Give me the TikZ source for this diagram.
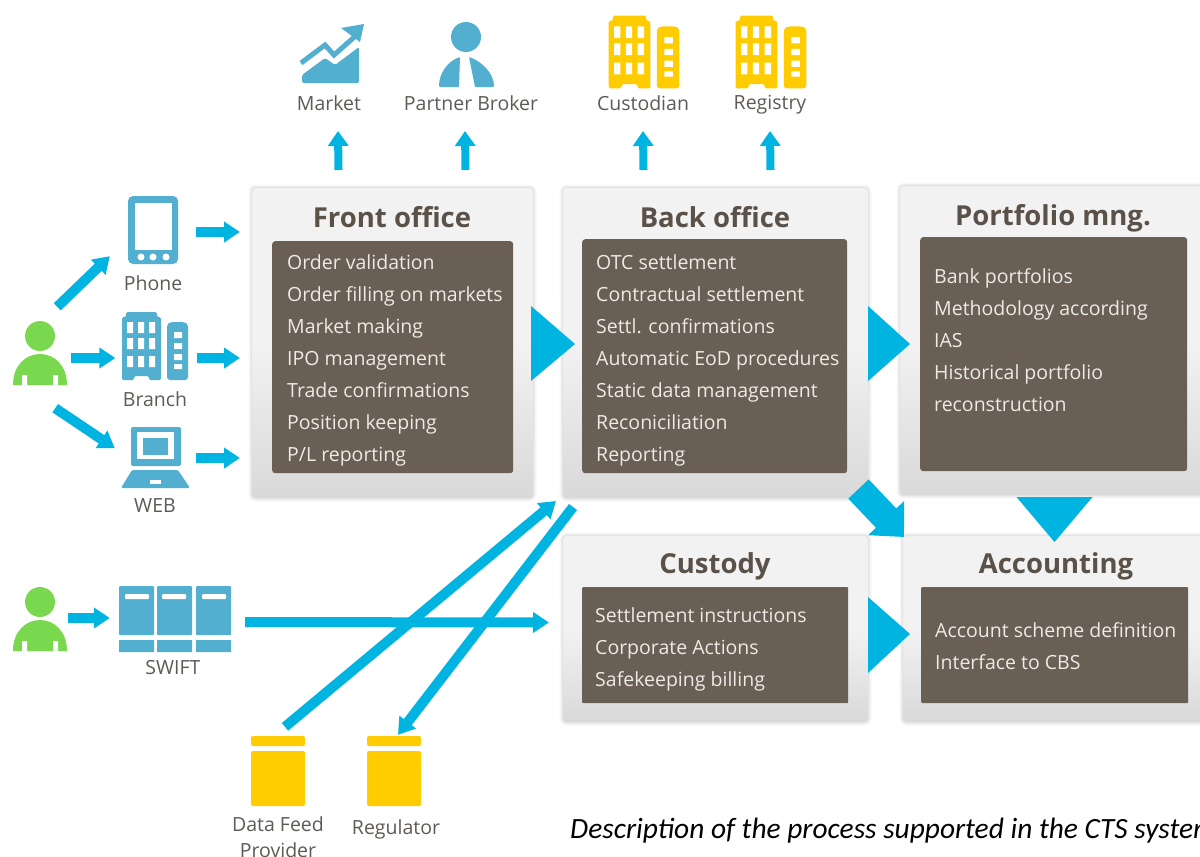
\documentclass[tikz,border=0pt]{standalone}
\usepackage{fontspec}
\setmainfont{Open Sans}
\newfontfamily\captionfont{Carlito}
\usetikzlibrary{arrows.meta}

\definecolor{flowblue}{HTML}{00B4E2}
\definecolor{iconblue}{HTML}{52AFD0}
\definecolor{icongreen}{HTML}{7AD84E}
\definecolor{iconyellow}{HTML}{FFCC00}
\definecolor{boxbrown}{HTML}{695F55}
\definecolor{titlegrey}{HTML}{5A5249}
\definecolor{labelgrey}{HTML}{5F5A55}
\definecolor{listwhite}{HTML}{EEEAE6}

\tikzset{
  panel/.style={anchor=north west, inner sep=0, rounded corners=4pt,
    preaction={draw=black!3, line width=6pt}, preaction={draw=black!7, line width=3pt},
    draw=black!11, line width=1pt,
    top color=black!5, bottom color=black!15, middle color=black!5},
  listbox/.style={anchor=north west, inner sep=0, fill=boxbrown, rounded corners=3pt},
  listtext/.style={anchor=west, inner sep=0, align=left, text=listwhite, font=\fontsize{19.5}{32}\selectfont},
  paneltitle/.style={inner sep=0, text=titlegrey, font=\fontsize{27.5}{30}\selectfont\bfseries},
  iconname/.style={inner sep=0, text=labelgrey, font=\fontsize{19.5}{26}\selectfont, align=center},
  iconbox/.style={inner sep=0},
  flowarrow/.style={draw=flowblue, line width=10pt, -{Triangle[width=20pt,length=16pt]}},
  flowup/.style={draw=flowblue, line width=8pt, -{Triangle[width=20pt,length=15pt]}},
  % icons, each one drawn round its own centre
  persicon/.pic={
    \fill[icongreen] (0,-24) circle (15);
    \fill[icongreen] (-27,25) .. controls (-27,5) and (-14,-6) .. (0,-6)
      .. controls (14,-6) and (27,5) .. (27,25) -- cycle;
    \fill[white] (-18,15) rectangle (-13,25) (13,15) rectangle (18,25);
  },
  buildicon/.pic={
    \fill[pic actions, rounded corners=1.5pt] (-33,34) -- (-33,-29) -- (-29,-29) -- (-29,-34) -- (2,-34)
      -- (2,-29) -- (6,-29) -- (6,34) -- (-6,34) -- (-6,30) -- (-21,30) -- (-21,34) -- cycle;
    \fill[pic actions, rounded corners=3pt] (12,34) -- (12,-22) -- (16,-24) -- (29,-24) -- (33,-22) -- (33,34) -- cycle;
    \fill[white] (-28,-24) rectangle (-22,-13) (-17,-24) rectangle (-11,-13) (-6,-24) rectangle (0,-13);
    \fill[white] (-28,-8) rectangle (-22,3) (-17,-8) rectangle (-11,3) (-6,-8) rectangle (0,3);
    \fill[white] (-28,10) rectangle (-22,21) (-17,10) rectangle (-11,21) (-6,10) rectangle (0,21);
    \fill[white] (19,-14) rectangle (27,-8) (19,-3) rectangle (27,3) (19,8) rectangle (27,14) (19,18) rectangle (27,23);
  },
  phoneicon/.pic={
    \fill[iconblue, rounded corners=5pt] (-25,-34) rectangle (25,34);
    \fill[white] (-18,-27) rectangle (19,20);
    \fill[white] (-12,27) circle (3.5) (0,27) circle (3.5) (13,27) circle (3.5);
  },
  lapicon/.pic={
    \fill[iconblue, rounded corners=2pt] (-24,-30) rectangle (26,9);
    \fill[white] (-18,-25) rectangle (19,2);
    \fill[iconblue] (-12,-19) rectangle (13,-2);
    \fill[iconblue, rounded corners=1.5pt] (-23,13) -- (23,13) -- (35,31) -- (-34,31) -- cycle;
    \fill[white] (-5,23) rectangle (6,27);
  },
  charticon/.pic={
    \fill[iconblue, rounded corners=1.5pt] (-28,28) -- (-28,20) -- (-5,3) -- (5,10) -- (29,-8) -- (29,28) -- cycle;
    \draw[iconblue, line width=5pt] (-29,8) -- (-5,-10) -- (4,0) -- (30,-23);
    \fill[iconblue] (11,-27) -- (34,-31) -- (30,-13) -- cycle;
  },
  brokicon/.pic={
    \fill[iconblue] (0,-18) circle (15);
    \fill[iconblue, rounded corners=1pt] (-6,2) .. controls (-18,6) and (-27,18) .. (-27,32) -- (-7,32) -- cycle;
    \fill[iconblue, rounded corners=1pt] (3,2) .. controls (15,6) and (28,18) .. (28,32) -- (9,32) -- cycle;
  },
  servicon/.pic={
    \fill[iconblue, rounded corners=1pt] (-56,-33) rectangle (-21,16) (-18,-33) rectangle (17,16) (21,-33) rectangle (56,16);
    \fill[iconblue] (-56,21) rectangle (-21,33) (-18,21) rectangle (17,33) (21,21) rectangle (56,33);
    \fill[white, rounded corners=1pt] (-50,-25) rectangle (-26,-20) (-13,-25) rectangle (11,-20) (27,-25) rectangle (51,-20);
  },
  canicon/.pic={
    \fill[iconyellow, rounded corners=2pt] (-27,-35) rectangle (27,-25);
    \fill[iconyellow, rounded corners=2pt] (-27,-20) rectangle (27,35);
  }
}

\begin{document}
\begin{tikzpicture}[x=1pt, y=-1pt]
    \useasboundingbox (0,0) rectangle (1200,857);
    \clip (0,0) rectangle (1200,857);
    \fill[white] (0,0) rectangle (1200,857);

    % panels
    \node[panel, minimum width=282, minimum height=311] (front) at (251,187) {};
    \node[panel, minimum width=306, minimum height=311] (back) at (562,187) {};
    \node[panel, minimum width=340, minimum height=310] (portfolio) at (899,185) {};
    \node[panel, minimum width=306, minimum height=187] (custody) at (562,535) {};
    \node[panel, minimum width=340, minimum height=187] (accounting) at (902,535) {};

    \node[paneltitle] (fronttitle) at (392,217) {Front office};
    \node[paneltitle] (backtitle) at (715,217) {Back office};
    \node[paneltitle] (portfoliotitle) at (1053,218) {Portfolio mng.};
    \node[paneltitle] (custodytitle) at (715,566) {Custody};
    \node[paneltitle] (accountingtitle) at (1056,566) {Accounting};

    \node[listbox, minimum width=241, minimum height=232] (frontlist) at (272,241) {};
    \node[listbox, minimum width=265, minimum height=234] (backlist) at (582,239) {};
    \node[listbox, minimum width=267, minimum height=234] (portfoliolist) at (920,237) {};
    \node[listbox, rounded corners=1pt, minimum width=266, minimum height=116] (custodylist) at (582,587) {};
    \node[listbox, rounded corners=1pt, minimum width=267, minimum height=116] (accountinglist) at (921,587) {};

    \node[listtext] (fronttext) at (287,360) {Order validation\\Order filling on markets\\Market making\\IPO management\\Trade confirmations\\Position keeping\\P/L reporting};
    \node[listtext] (backtext) at (596,360) {OTC settlement\\Contractual settlement\\Settl. confirmations\\Automatic EoD procedures\\Static data management\\Reconiciliation\\Reporting};
    \node[listtext] (portfoliotext) at (934,340) {Bank portfolios\\Methodology according\\IAS\\Historical portfolio\\reconstruction};
    \node[listtext] (custodytext) at (595,649) {Settlement instructions\\Corporate Actions\\Safekeeping billing};
    \node[listtext] (accountingtext) at (935,646) {Account scheme definition\\Interface to CBS};

    % icons
    \node[iconbox, minimum width=54, minimum height=64] (user) at (40,353) {};
    \node[iconbox, minimum width=54, minimum height=64] (trader) at (40,619) {};
    \node[iconbox, minimum width=50, minimum height=68] (phone) at (153,230) {};
    \node[iconbox, minimum width=67, minimum height=68] (branch) at (155,346) {};
    \node[iconbox, minimum width=69, minimum height=62] (web) at (155,457) {};
    \node[iconbox, minimum width=112, minimum height=66] (swift) at (175,619) {};
    \node[iconbox, minimum width=62, minimum height=62] (market) at (330,55) {};
    \node[iconbox, minimum width=55, minimum height=70] (broker) at (466,55) {};
    \node[iconbox, minimum width=72, minimum height=72] (custodian) at (644,52) {};
    \node[iconbox, minimum width=72, minimum height=72] (registry) at (771,52) {};
    \node[iconbox, minimum width=54, minimum height=70] (datafeed) at (278,771) {};
    \node[iconbox, minimum width=54, minimum height=70] (regulator) at (394,771) {};

    \pic at ([yshift=-7pt]user.center) {persicon};
    \pic at ([yshift=-7pt]trader.center) {persicon};
    \pic at (phone) {phoneicon};
    \pic[fill=iconblue] at (branch) {buildicon};
    \pic at (web) {lapicon};
    \pic at (swift) {servicon};
    \pic at (market) {charticon};
    \pic at (broker) {brokicon};
    \pic[fill=iconyellow, scale=1.07] at (custodian) {buildicon};
    \pic[fill=iconyellow, scale=1.07] at (registry) {buildicon};
    \pic at (datafeed) {canicon};
    \pic at (regulator) {canicon};

    \node[iconname] (phonename) at (153,283) {Phone};
    \node[iconname] (branchname) at (155,399) {Branch};
    \node[iconname] (webname) at (155,506) {WEB};
    \node[iconname] (swiftname) at (173,668) {SWIFT};
    \node[iconname] (marketname) at (329,103) {Market};
    \node[iconname] (brokername) at (471,103) {Partner Broker};
    \node[iconname] (custodianname) at (643,103) {Custodian};
    \node[iconname] (registryname) at (770,105) {Registry};
    \node[iconname] (datafeedname) at (278,837) {Data Feed\\Provider};
    \node[iconname] (regulatorname) at (396,829) {Regulator};

    % big arrows between panels
    \fill[flowblue] ([shift={(-3,-37)}]front.east) -- ([shift={(41,1)}]front.east) -- ([shift={(-3,38)}]front.east) -- cycle;
    \fill[flowblue] ([shift={(-1,-37)}]back.east) -- ([shift={(41,1)}]back.east) -- ([shift={(-1,38)}]back.east) -- cycle;
    \fill[flowblue] ([shift={(-1,-32)}]custody.east) -- ([shift={(41,5)}]custody.east) -- ([shift={(-1,44)}]custody.east) -- cycle;
    \fill[flowblue] ([shift={(-53,1)}]portfolio.south) -- ([shift={(23,1)}]portfolio.south) -- ([shift={(-15,46)}]portfolio.south) -- cycle;
    \draw[flowarrow, line width=28pt, -{Triangle[width=48pt,length=26pt]}] ([shift={(-10.5,-10)}]back.south east) -- ([shift={(2,2)}]accounting.north west);

    % arrows
    \draw[flowup] ([shift={(-54,-17)}]front.north) -- ([shift={(9,28)}]marketname.center);
    \draw[flowup] ([shift={(73,-17)}]front.north) -- ([shift={(-6,28)}]brokername.center);
    \draw[flowup] ([shift={(-72,-17)}]back.north) -- ([shift={(0,28)}]custodianname.center);
    \draw[flowup] ([shift={(55,-17)}]back.north) -- ([shift={(0,26)}]registryname.center);

    \draw[flowarrow] ([shift={(-10,-14)}]user.north east) -- ([shift={(-18,-8)}]phone.south west);
    \draw[flowarrow] ([shift={(4,5)}]user.east) -- ([shift={(-6,12)}]branch.west);
    \draw[flowarrow] ([shift={(-12,23)}]user.south east) -- ([shift={(-5.5,-40)}]web.south west);
    \draw[flowarrow] ([shift={(18,2)}]phone.east) -- ([shift={(-11,2)}]phone.east -| front.west);
    \draw[flowarrow] ([shift={(8,12)}]branch.east) -- ([shift={(-11,12)}]branch.east -| front.west);
    \draw[flowarrow] ([shift={(6,1)}]web.east) -- ([shift={(-11,1)}]web.east -| front.west);
    \draw[flowarrow] ([shift={(1,-1)}]trader.east) -- ([shift={(-9,-1)}]swift.west);
    \draw[flowarrow] ([shift={(14,3)}]swift.east) -- ([shift={(-13,-6.5)}]custody.west);
    \draw[flowarrow] ([shift={(7,-9)}]datafeed.north) -- ([shift={(-6,2)}]back.south west);
    \draw[flowarrow] ([shift={(11,8)}]back.south west) -- ([shift={(4,-1)}]regulator.north);

    \node[anchor=west, inner sep=0, font=\captionfont\fontsize{29.4}{32}\selectfont\itshape] (caption) at (570,831) {Description of the process supported in the CTS system};
\end{tikzpicture}
\end{document}
